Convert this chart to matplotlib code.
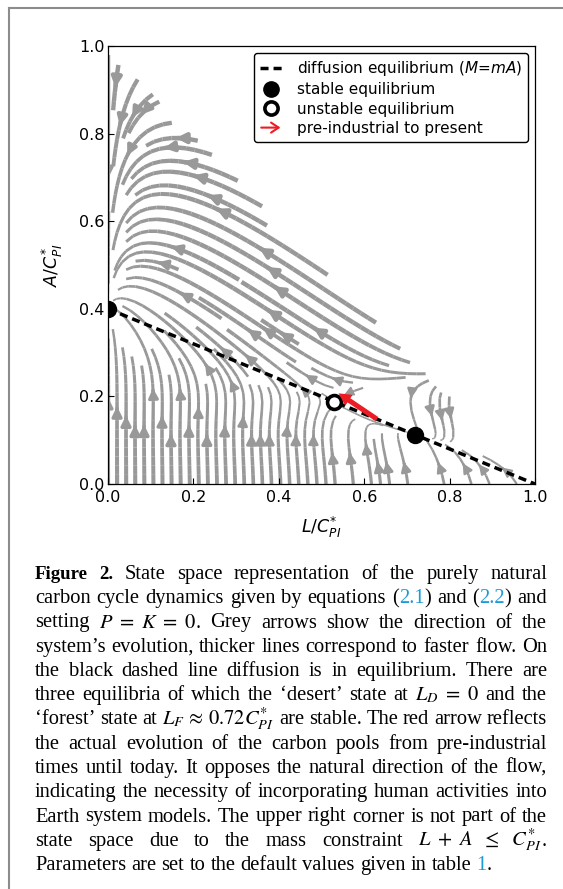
import numpy as np
import matplotlib
matplotlib.use('Agg')
import matplotlib.pyplot as plt
import matplotlib.patches as mpatches
from matplotlib.lines import Line2D
from matplotlib.legend_handler import HandlerBase

# ---------------- values ----------------
tick_values = [0.0, 0.2, 0.4, 0.6, 0.8, 1.0]
tick_labels = ['0.0', '0.2', '0.4', '0.6', '0.8', '1.0']

diff_L = [0.0, 1.0]          # diffusion equilibrium line end points
diff_A = [0.4, 0.0]

stable_L = [0.0, 0.72]       # desert, forest
stable_A = [0.4, 0.112]
unstable_L = [0.53]
unstable_A = [0.188]

arrow_L = [0.63, 0.54]       # pre-industrial -> present
arrow_A = [0.148, 0.207]

legend_labels = ['diffusion equilibrium ($M$=$mA$)', 'stable equilibrium',
                 'unstable equilibrium', 'pre-industrial to present']

# model parameters for the flow field (carbon cycle, P = K = 0)
m_ratio = 1.5
diffusion_rate = 1.0
heat_gain = 60.0
heat_sat = 0.17
starve_width = 0.04

# ---------------- figure ----------------
W, H = 563, 889
plt.rcParams['font.family'] = ['DejaVu Sans']
plt.rcParams['mathtext.fontset'] = 'dejavusans'
plt.rcParams['lines.scale_dashes'] = False

fig = plt.figure(figsize=(W / 100, H / 100), dpi=100)
ax = fig.add_axes([108 / W, 1 - 484 / H, 427 / W, 438 / H])

# flow field
Lg = np.linspace(0, 1, 201)
Ag = np.linspace(0, 1, 201)
LL, AA = np.meshgrid(Lg, Ag)
A1 = stable_A[1]
A2 = unstable_A[0]
q = (AA - A1) * (AA - A2)
growth = -heat_gain * q / (1 + q / heat_sat) / (1 + np.exp(-(AA - A1) / starve_width))
dL = LL * growth
dA = -dL + diffusion_rate * (1 - LL - (1 + m_ratio) * AA)
mask = (LL + AA) > 1.0 + 1e-9
speed = np.hypot(dL, dA)
lw = 0.5 + 2.7 * (np.clip(speed, 0, 1.2) / 1.2) ** 0.4
U = np.ma.masked_where(mask, dL)
V = np.ma.masked_where(mask, dA)

ax.streamplot(Lg, Ag, U, V, density=1.6, color='#999999', linewidth=lw,
              arrowsize=1.4, arrowstyle='-|>', zorder=1)

ax.plot(diff_L, diff_A, color='black', lw=2.5, dashes=(5.8, 3.6), zorder=3)
ax.plot(stable_L, stable_A, ls='none', marker='o', ms=11.5, mfc='black',
        mec='black', zorder=5)
ax.plot(unstable_L, unstable_A, ls='none', marker='o', ms=10, mfc='white',
        mec='black', mew=2.6, zorder=5)

red = '#ec1c24'
arr = mpatches.FancyArrowPatch((arrow_L[0], arrow_A[0]), (arrow_L[1], arrow_A[1]),
                               arrowstyle=mpatches.ArrowStyle.Simple(head_length=0.9, head_width=0.95, tail_width=0.36),
                               mutation_scale=10, color=red, lw=0, shrinkA=0, shrinkB=0, zorder=6)
ax.add_patch(arr)

ax.set_xlim(0, 1)
ax.set_ylim(0, 1)
ax.set_xticks(tick_values)
ax.set_xticklabels(tick_labels)
ax.set_yticks(tick_values)
ax.set_yticklabels(tick_labels)
ax.tick_params(direction='in', length=4, width=0.8, labelsize=11.5)
ax.tick_params(axis='x', pad=4.5)
ax.tick_params(axis='y', pad=2.5)
for s in ax.spines.values():
    s.set_linewidth(0.9)
ax.set_xlabel('$L/C^{*}_{PI}$', fontsize=12.5, labelpad=7)
ax.set_ylabel('$A/C^{*}_{PI}$', fontsize=12.5, labelpad=10)


class HandlerArrow(HandlerBase):
    def create_artists(self, legend, orig_handle, xdescent, ydescent, width,
                       height, fontsize, trans):
        y = -ydescent + height / 2
        p = mpatches.FancyArrowPatch((-xdescent + 0.05 * width, y), (-xdescent + 0.95 * width, y),
                                     arrowstyle='->,head_length=0.45,head_width=0.3',
                                     mutation_scale=12, color=red, lw=1.5,
                                     shrinkA=0, shrinkB=0, transform=trans)
        return [p]


h_dash = Line2D([], [], color='black', lw=2.5, dashes=(5.8, 3.6))
h_stable = Line2D([], [], ls='none', marker='o', ms=11, mfc='black', mec='black')
h_unstable = Line2D([], [], ls='none', marker='o', ms=9.5, mfc='white', mec='black', mew=2.6)
h_arrow = mpatches.FancyArrowPatch((0, 0), (1, 0))
leg = ax.legend([h_dash, h_stable, h_unstable, h_arrow], legend_labels,
                handler_map={mpatches.FancyArrowPatch: HandlerArrow()},
                loc='upper right', bbox_to_anchor=(1 - 7 / 427, 1 - 7 / 438),
                borderaxespad=0, fontsize=11, labelspacing=0.28, handlelength=1.4,
                handletextpad=1.0, borderpad=0.4, numpoints=1, frameon=True,
                fancybox=True, edgecolor='black', framealpha=1)
leg.get_frame().set_linewidth(1.0)
leg.set_zorder(10)

# page border lines
fig.add_artist(Line2D([9 / W, 1.0], [1 - 8 / H, 1 - 8 / H], transform=fig.transFigure,
                      color='#8c8c8c', lw=1.5))
fig.add_artist(Line2D([9 / W, 9 / W], [1 - 8 / H, 0.0], transform=fig.transFigure,
                      color='#8c8c8c', lw=1.5))

# ---------------- caption (justified) ----------------
blue = '#1e9bd7'
N = {}
B = {'weight': 'bold', 'size': 13.6}
C = {'color': blue}
M = {'math': True}
caption_lines = [
    [('Figure 2.', B), ('  State space representation of the purely natural', N)],
    [('carbon cycle dynamics given by equations (', N), ('2.1', C), (') and (', N), ('2.2', C), (') and', N)],
    [('setting ', N), ('$P\\ =\\ K\\ =\\ 0$.', M), (' Grey arrows show the direction of the', N)],
    [('system\u2019s evolution, thicker lines correspond to faster flow. On', N)],
    [('the black dashed line diffusion is in equilibrium. There are', N)],
    [('three equilibria of which the \u2018desert\u2019 state at ', N), ('$L_D\\ =\\ 0$', M), (' and the', N)],
    [('\u2018forest\u2019 state at ', N), ('$L_F\\,\\approx\\,0.72C^{*}_{PI}$', M), (' are stable. The red arrow reflects', N)],
    [('the actual evolution of the carbon pools from pre-industrial', N)],
    [('times until today. It opposes the natural direction of the flow,', N)],
    [('indicating the necessity of incorporating human activities into', N)],
    [('Earth system models. The upper right corner is not part of the', N)],
    [('state space due to the mass constraint ', N), ('$L\\ +\\ A\\ \\ \\leq\\ \\ C^{*}_{PI}$', M), ('.', N)],
    [('Parameters are set to the default values given in table ', N), ('1', C), ('.', N)],
]

base_props = dict(family='Liberation Serif', fontsize=14.8, color='black',
                  math_fontfamily='stix', va='baseline', ha='left')
x_left, x_right = 35.0, 547.0
y_first, y_step = 579.0, 24.25

renderer = fig.canvas.get_renderer()


def props_for(style):
    p = dict(base_props)
    if 'weight' in style:
        p['weight'] = style['weight']
    if 'size' in style:
        p['fontsize'] = style['size']
    if 'color' in style:
        p['color'] = style['color']
    return p


def measure(text, style):
    t = fig.text(0, 0, text, **props_for(style))
    w = t.get_window_extent(renderer).width
    t.remove()
    return w


def split_words(segs):
    words = [[]]
    for text, style in segs:
        if style.get('math'):
            words[-1].append((text, style))
            continue
        parts = text.split(' ')
        for i, p in enumerate(parts):
            if i > 0 and words[-1]:
                words.append([])
            if p:
                words[-1].append((p, style))
    return [w for w in words if w]


space_w = measure('a a', N) - measure('aa', N)

for li, segs in enumerate(caption_lines):
    words = split_words(segs)
    widths = [[measure(p, s) for p, s in w] for w in words]
    totals = [sum(w) for w in widths]
    last = li == len(caption_lines) - 1
    if last or len(words) < 2:
        gap = space_w
    else:
        gap = (x_right - x_left - sum(totals)) / (len(words) - 1)
    ybase = y_first + li * y_step
    x = x_left
    for w, ws in zip(words, widths):
        xx = x
        for (p, s), pw in zip(w, ws):
            fig.text(xx / W, 1 - ybase / H, p, **props_for(s))
            xx += pw
        x += sum(ws) + gap

fig.savefig('out.png', dpi=100)
